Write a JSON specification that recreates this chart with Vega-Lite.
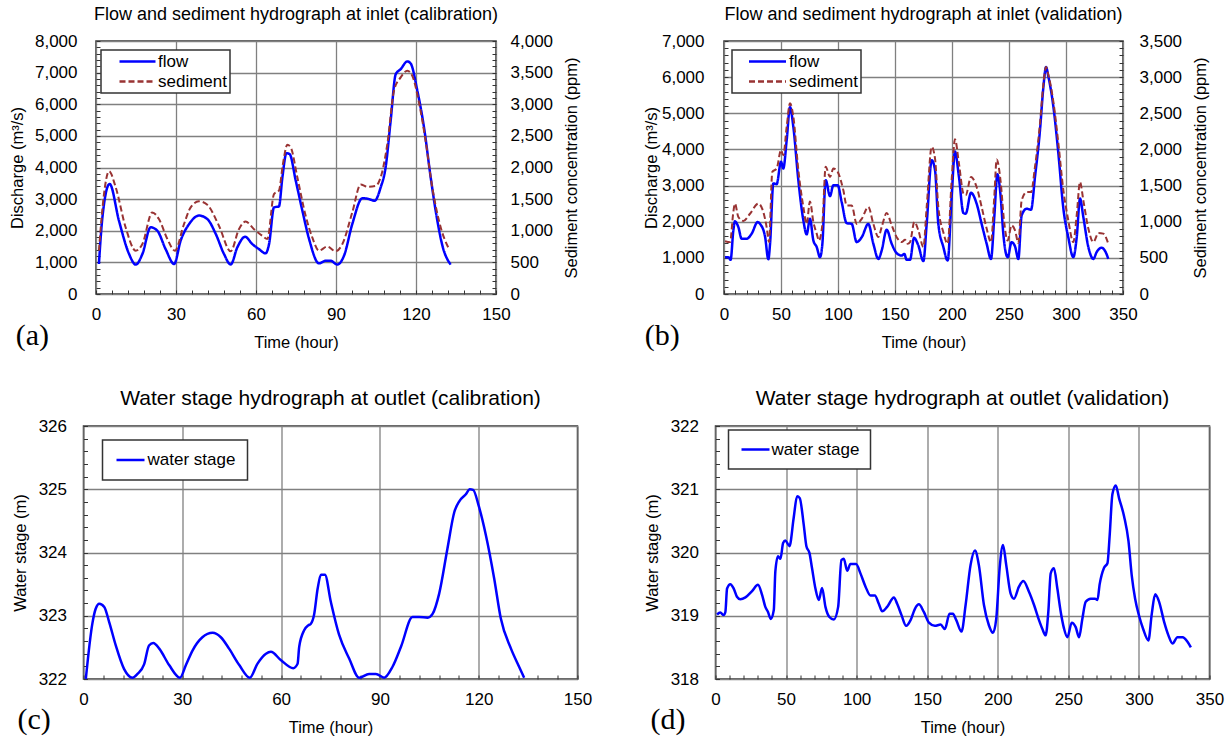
{
  "$schema": "https://vega.github.io/schema/vega-lite/v6.json",
  "background": "white",
  "padding": {"left": 0, "top": 5, "right": 5, "bottom": 5},
  "config": {
    "font": "Liberation Sans",
    "view": {"stroke": "#333333", "strokeWidth": 1.5},
    "title": {"font": "Liberation Sans", "fontSize": 18, "fontWeight": "normal", "color": "black", "offset": 8, "frame": "group"},
    "axis": {
      "labelFont": "Liberation Sans", "titleFont": "Liberation Sans",
      "labelFontSize": 17, "titleFontSize": 16.5, "titleFontWeight": "normal",
      "labelColor": "black", "titleColor": "black",
      "tickColor": "#333333", "tickSize": -4, "tickWidth": 1,
      "domain": false, "gridColor": "#808080", "gridWidth": 1.3,
      "labelOverlap": false, "labelFlush": false
    },
    "axisX": {"labelPadding": 16, "titlePadding": 12},
    "axisY": {"labelPadding": 23, "titlePadding": 9},
    "legend": {"strokeColor": "#333333", "strokeWidth": 1.5, "fillColor": "white", "labelFont": "Liberation Sans", "labelFontSize": 17, "labelColor": "black"},
    "line": {"interpolate": "monotone"}
  },
  "datasets": {
    "a_flow": [
      {"t":1.1,"v":950,"s":"flow"},{"t":2.4,"v":2420,"s":"flow"},{"t":5.1,"v":3480,"s":"flow"},{"t":8.6,"v":2320,"s":"flow"},
      {"t":12.4,"v":1265,"s":"flow"},{"t":14.9,"v":930,"s":"flow"},{"t":17.4,"v":1265,"s":"flow"},{"t":20.5,"v":2110,"s":"flow"},
      {"t":23,"v":2000,"s":"flow"},{"t":26.1,"v":1420,"s":"flow"},{"t":29.3,"v":950,"s":"flow"},{"t":31.75,"v":1690,"s":"flow"},
      {"t":34.9,"v":2210,"s":"flow"},{"t":38.6,"v":2480,"s":"flow"},{"t":41.75,"v":2370,"s":"flow"},{"t":44.9,"v":1900,"s":"flow"},
      {"t":48,"v":1265,"s":"flow"},{"t":50.5,"v":930,"s":"flow"},{"t":53,"v":1475,"s":"flow"},{"t":55.9,"v":1810,"s":"flow"},
      {"t":58.6,"v":1580,"s":"flow"},{"t":61.1,"v":1420,"s":"flow"},{"t":63.6,"v":1285,"s":"flow"},{"t":64.9,"v":1580,"s":"flow"},
      {"t":66.75,"v":2740,"s":"flow"},{"t":68.6,"v":2770,"s":"flow"},{"t":69.9,"v":3690,"s":"flow"},{"t":71.4,"v":4450,"s":"flow"},
      {"t":72.6,"v":4425,"s":"flow"},{"t":74.9,"v":3585,"s":"flow"},{"t":77.4,"v":2630,"s":"flow"},{"t":79.9,"v":1740,"s":"flow"},
      {"t":83.6,"v":970,"s":"flow"},{"t":86.1,"v":1050,"s":"flow"},{"t":88,"v":1050,"s":"flow"},{"t":90.5,"v":930,"s":"flow"},
      {"t":93,"v":1210,"s":"flow"},{"t":96.1,"v":2210,"s":"flow"},{"t":99.9,"v":3030,"s":"flow"},{"t":102.4,"v":3000,"s":"flow"},
      {"t":104.5,"v":2950,"s":"flow"},{"t":106.75,"v":3370,"s":"flow"},{"t":108.6,"v":4000,"s":"flow"},{"t":110.5,"v":5480,"s":"flow"},
      {"t":112.4,"v":6950,"s":"flow"},{"t":114.25,"v":7110,"s":"flow"},{"t":116.75,"v":7355,"s":"flow"},{"t":118,"v":7290,"s":"flow"},
      {"t":120.5,"v":6430,"s":"flow"},{"t":123,"v":5270,"s":"flow"},{"t":125.5,"v":3690,"s":"flow"},{"t":128,"v":2320,"s":"flow"},
      {"t":129.9,"v":1530,"s":"flow"},{"t":133,"v":930,"s":"flow"}
    ],
    "a_sed": [
      {"t":1.1,"v":685,"s":"sediment"},{"t":2.1,"v":1210,"s":"sediment"},{"t":3,"v":1580,"s":"sediment"},{"t":4.9,"v":1940,"s":"sediment"},
      {"t":7.4,"v":1685,"s":"sediment"},{"t":11.1,"v":1055,"s":"sediment"},{"t":14.9,"v":685,"s":"sediment"},{"t":17.4,"v":790,"s":"sediment"},
      {"t":21.1,"v":1290,"s":"sediment"},{"t":23.6,"v":1185,"s":"sediment"},{"t":26.75,"v":870,"s":"sediment"},{"t":29.6,"v":685,"s":"sediment"},
      {"t":33,"v":1105,"s":"sediment"},{"t":35.5,"v":1370,"s":"sediment"},{"t":38.6,"v":1465,"s":"sediment"},{"t":41.75,"v":1410,"s":"sediment"},
      {"t":46.1,"v":1080,"s":"sediment"},{"t":50.5,"v":675,"s":"sediment"},{"t":53.6,"v":1025,"s":"sediment"},{"t":56.1,"v":1145,"s":"sediment"},
      {"t":59.25,"v":1025,"s":"sediment"},{"t":62.4,"v":920,"s":"sediment"},{"t":64.25,"v":870,"s":"sediment"},{"t":66.75,"v":1580,"s":"sediment"},
      {"t":68.6,"v":1635,"s":"sediment"},{"t":70.1,"v":2055,"s":"sediment"},{"t":71.75,"v":2360,"s":"sediment"},{"t":73,"v":2320,"s":"sediment"},
      {"t":75.5,"v":1845,"s":"sediment"},{"t":78.6,"v":1240,"s":"sediment"},{"t":81.1,"v":895,"s":"sediment"},{"t":83.6,"v":685,"s":"sediment"},
      {"t":86.75,"v":750,"s":"sediment"},{"t":89.9,"v":675,"s":"sediment"},{"t":92.4,"v":790,"s":"sediment"},{"t":96.1,"v":1290,"s":"sediment"},
      {"t":99.25,"v":1730,"s":"sediment"},{"t":101.75,"v":1695,"s":"sediment"},{"t":104.9,"v":1710,"s":"sediment"},{"t":107.1,"v":1895,"s":"sediment"},
      {"t":109.25,"v":2370,"s":"sediment"},{"t":111.75,"v":3215,"s":"sediment"},{"t":114.25,"v":3425,"s":"sediment"},{"t":116.75,"v":3530,"s":"sediment"},
      {"t":118.6,"v":3450,"s":"sediment"},{"t":121.1,"v":3030,"s":"sediment"},{"t":123.6,"v":2425,"s":"sediment"},{"t":126.1,"v":1685,"s":"sediment"},
      {"t":129.25,"v":1055,"s":"sediment"},{"t":132.4,"v":710,"s":"sediment"}
    ],
    "b_flow": [
      {"t":0.9,"v":1020,"s":"flow"},{"t":3.8,"v":1020,"s":"flow"},{"t":5.8,"v":945,"s":"flow"},{"t":8.2,"v":1760,"s":"flow"},
      {"t":9.6,"v":2010,"s":"flow"},{"t":12.6,"v":1850,"s":"flow"},{"t":15.5,"v":1530,"s":"flow"},{"t":19.9,"v":1530,"s":"flow"},
      {"t":24.3,"v":1670,"s":"flow"},{"t":29.5,"v":1990,"s":"flow"},{"t":31.6,"v":1940,"s":"flow"},{"t":36,"v":1590,"s":"flow"},
      {"t":38.9,"v":960,"s":"flow"},{"t":40.4,"v":1390,"s":"flow"},{"t":43.3,"v":3060,"s":"flow"},{"t":46.2,"v":3040,"s":"flow"},
      {"t":50,"v":3660,"s":"flow"},{"t":52,"v":3470,"s":"flow"},{"t":55,"v":4260,"s":"flow"},{"t":57.9,"v":5170,"s":"flow"},
      {"t":60.8,"v":4630,"s":"flow"},{"t":65.2,"v":3150,"s":"flow"},{"t":69.6,"v":2040,"s":"flow"},{"t":72.5,"v":1650,"s":"flow"},
      {"t":75.4,"v":2080,"s":"flow"},{"t":78.4,"v":1480,"s":"flow"},{"t":81.3,"v":1300,"s":"flow"},{"t":84.2,"v":1020,"s":"flow"},
      {"t":86.3,"v":1390,"s":"flow"},{"t":89.2,"v":3150,"s":"flow"},{"t":93,"v":2710,"s":"flow"},{"t":95.9,"v":3010,"s":"flow"},
      {"t":99.7,"v":3010,"s":"flow"},{"t":103.2,"v":2550,"s":"flow"},{"t":107.6,"v":1960,"s":"flow"},{"t":112,"v":1940,"s":"flow"},
      {"t":116.4,"v":1435,"s":"flow"},{"t":120.8,"v":1570,"s":"flow"},{"t":126.6,"v":1940,"s":"flow"},{"t":131,"v":1390,"s":"flow"},
      {"t":135.4,"v":970,"s":"flow"},{"t":138.3,"v":1200,"s":"flow"},{"t":142.7,"v":1780,"s":"flow"},{"t":147.1,"v":1390,"s":"flow"},
      {"t":151.5,"v":1130,"s":"flow"},{"t":155.8,"v":1065,"s":"flow"},{"t":158.2,"v":1110,"s":"flow"},{"t":160.2,"v":945,"s":"flow"},
      {"t":163.2,"v":945,"s":"flow"},{"t":166.7,"v":1555,"s":"flow"},{"t":170.5,"v":1340,"s":"flow"},{"t":174.9,"v":910,"s":"flow"},
      {"t":177.8,"v":1940,"s":"flow"},{"t":182.2,"v":3700,"s":"flow"},{"t":185.1,"v":3430,"s":"flow"},{"t":188,"v":1940,"s":"flow"},
      {"t":192.4,"v":1300,"s":"flow"},{"t":196.2,"v":925,"s":"flow"},{"t":199.7,"v":2690,"s":"flow"},{"t":202.6,"v":3940,"s":"flow"},
      {"t":206.1,"v":3240,"s":"flow"},{"t":210,"v":2240,"s":"flow"},{"t":212,"v":2220,"s":"flow"},{"t":216.7,"v":2800,"s":"flow"},
      {"t":221.6,"v":2500,"s":"flow"},{"t":226,"v":1940,"s":"flow"},{"t":230.4,"v":1390,"s":"flow"},{"t":234.2,"v":970,"s":"flow"},
      {"t":237.1,"v":2130,"s":"flow"},{"t":239.8,"v":3310,"s":"flow"},{"t":242.7,"v":2690,"s":"flow"},{"t":245,"v":1670,"s":"flow"},
      {"t":248.8,"v":1020,"s":"flow"},{"t":252.3,"v":1435,"s":"flow"},{"t":255.3,"v":1315,"s":"flow"},{"t":258.2,"v":970,"s":"flow"},
      {"t":261.1,"v":2175,"s":"flow"},{"t":265.5,"v":2360,"s":"flow"},{"t":269.3,"v":2330,"s":"flow"},{"t":272.8,"v":3240,"s":"flow"},
      {"t":277.2,"v":4540,"s":"flow"},{"t":280.1,"v":5700,"s":"flow"},{"t":282.5,"v":6280,"s":"flow"},{"t":284.5,"v":6020,"s":"flow"},
      {"t":288.9,"v":5190,"s":"flow"},{"t":293.3,"v":3890,"s":"flow"},{"t":297.7,"v":2360,"s":"flow"},{"t":302,"v":1570,"s":"flow"},
      {"t":306.4,"v":1020,"s":"flow"},{"t":309.4,"v":1570,"s":"flow"},{"t":312.3,"v":2640,"s":"flow"},{"t":315.2,"v":2130,"s":"flow"},
      {"t":319.6,"v":1300,"s":"flow"},{"t":324,"v":970,"s":"flow"},{"t":326.9,"v":1160,"s":"flow"},{"t":331.3,"v":1280,"s":"flow"},
      {"t":334.8,"v":1160,"s":"flow"},{"t":337.1,"v":970,"s":"flow"}
    ],
    "b_sed": [
      {"t":0.9,"v":730,"s":"sediment"},{"t":5.3,"v":718,"s":"sediment"},{"t":8.2,"v":1135,"s":"sediment"},{"t":9.6,"v":1250,"s":"sediment"},
      {"t":12.6,"v":1065,"s":"sediment"},{"t":17,"v":1010,"s":"sediment"},{"t":22.8,"v":1110,"s":"sediment"},{"t":30.1,"v":1250,"s":"sediment"},
      {"t":34.5,"v":1135,"s":"sediment"},{"t":37.4,"v":925,"s":"sediment"},{"t":39.5,"v":718,"s":"sediment"},{"t":42.4,"v":1690,"s":"sediment"},
      {"t":46.2,"v":1735,"s":"sediment"},{"t":50,"v":1990,"s":"sediment"},{"t":52,"v":1920,"s":"sediment"},{"t":55,"v":2315,"s":"sediment"},
      {"t":57.9,"v":2640,"s":"sediment"},{"t":60.8,"v":2455,"s":"sediment"},{"t":65.2,"v":1715,"s":"sediment"},{"t":69.6,"v":1205,"s":"sediment"},
      {"t":72.5,"v":970,"s":"sediment"},{"t":75.4,"v":1280,"s":"sediment"},{"t":78.4,"v":995,"s":"sediment"},{"t":81.3,"v":835,"s":"sediment"},
      {"t":83.3,"v":740,"s":"sediment"},{"t":86.3,"v":970,"s":"sediment"},{"t":89.2,"v":1760,"s":"sediment"},{"t":93,"v":1620,"s":"sediment"},
      {"t":95.9,"v":1735,"s":"sediment"},{"t":99.7,"v":1690,"s":"sediment"},{"t":104.7,"v":1435,"s":"sediment"},{"t":107.6,"v":1225,"s":"sediment"},
      {"t":112,"v":1225,"s":"sediment"},{"t":116.4,"v":970,"s":"sediment"},{"t":120.8,"v":1040,"s":"sediment"},{"t":126.6,"v":1205,"s":"sediment"},
      {"t":131,"v":970,"s":"sediment"},{"t":135.4,"v":788,"s":"sediment"},{"t":138.3,"v":925,"s":"sediment"},{"t":142.7,"v":1120,"s":"sediment"},
      {"t":147.1,"v":950,"s":"sediment"},{"t":152.3,"v":765,"s":"sediment"},{"t":155.8,"v":718,"s":"sediment"},{"t":158.8,"v":750,"s":"sediment"},
      {"t":161.1,"v":695,"s":"sediment"},{"t":163.2,"v":718,"s":"sediment"},{"t":167,"v":995,"s":"sediment"},{"t":170.5,"v":880,"s":"sediment"},
      {"t":174.9,"v":650,"s":"sediment"},{"t":177.8,"v":1205,"s":"sediment"},{"t":182.2,"v":2035,"s":"sediment"},{"t":185.1,"v":1875,"s":"sediment"},
      {"t":188,"v":1205,"s":"sediment"},{"t":192.4,"v":855,"s":"sediment"},{"t":196.2,"v":695,"s":"sediment"},{"t":199.7,"v":1575,"s":"sediment"},
      {"t":202.6,"v":2140,"s":"sediment"},{"t":206.1,"v":1805,"s":"sediment"},{"t":210,"v":1390,"s":"sediment"},{"t":212,"v":1365,"s":"sediment"},
      {"t":216.7,"v":1620,"s":"sediment"},{"t":221.6,"v":1480,"s":"sediment"},{"t":226,"v":1205,"s":"sediment"},{"t":230.4,"v":905,"s":"sediment"},
      {"t":234.2,"v":718,"s":"sediment"},{"t":237.1,"v":1345,"s":"sediment"},{"t":239.2,"v":1860,"s":"sediment"},{"t":242.7,"v":1550,"s":"sediment"},
      {"t":245.6,"v":1020,"s":"sediment"},{"t":248.8,"v":740,"s":"sediment"},{"t":252.3,"v":950,"s":"sediment"},{"t":255.3,"v":880,"s":"sediment"},
      {"t":258.2,"v":705,"s":"sediment"},{"t":261.1,"v":1295,"s":"sediment"},{"t":265.5,"v":1410,"s":"sediment"},{"t":269.3,"v":1410,"s":"sediment"},
      {"t":272.8,"v":1760,"s":"sediment"},{"t":277.2,"v":2360,"s":"sediment"},{"t":280.1,"v":2895,"s":"sediment"},{"t":282.5,"v":3140,"s":"sediment"},
      {"t":284.5,"v":3035,"s":"sediment"},{"t":288.9,"v":2660,"s":"sediment"},{"t":293.3,"v":2085,"s":"sediment"},{"t":297.7,"v":1435,"s":"sediment"},
      {"t":302,"v":1020,"s":"sediment"},{"t":306.4,"v":718,"s":"sediment"},{"t":309.4,"v":1090,"s":"sediment"},{"t":312.3,"v":1550,"s":"sediment"},
      {"t":315.2,"v":1295,"s":"sediment"},{"t":319.6,"v":905,"s":"sediment"},{"t":324,"v":718,"s":"sediment"},{"t":328.4,"v":843,"s":"sediment"},
      {"t":332.7,"v":835,"s":"sediment"},{"t":337.1,"v":695,"s":"sediment"}
    ],
    "c_stage": [
      {"t":0.7,"v":322.0,"s":"water stage"},{"t":2.7,"v":322.88,"s":"water stage"},{"t":3.7,"v":323.11,"s":"water stage"},{"t":4.8,"v":323.19,"s":"water stage"},
      {"t":6.3,"v":323.14,"s":"water stage"},{"t":7.8,"v":322.9,"s":"water stage"},{"t":9.8,"v":322.53,"s":"water stage"},{"t":12.3,"v":322.16,"s":"water stage"},
      {"t":14.9,"v":322.02,"s":"water stage"},{"t":16.4,"v":322.08,"s":"water stage"},{"t":18.4,"v":322.23,"s":"water stage"},{"t":19.9,"v":322.53,"s":"water stage"},
      {"t":21.2,"v":322.57,"s":"water stage"},{"t":23,"v":322.48,"s":"water stage"},{"t":26,"v":322.22,"s":"water stage"},{"t":29.3,"v":322.02,"s":"water stage"},
      {"t":31.1,"v":322.22,"s":"water stage"},{"t":33.1,"v":322.45,"s":"water stage"},{"t":36.1,"v":322.66,"s":"water stage"},{"t":39.2,"v":322.73,"s":"water stage"},
      {"t":41.7,"v":322.66,"s":"water stage"},{"t":44.2,"v":322.48,"s":"water stage"},{"t":47.3,"v":322.22,"s":"water stage"},{"t":50.5,"v":322.02,"s":"water stage"},
      {"t":52.8,"v":322.24,"s":"water stage"},{"t":55.4,"v":322.4,"s":"water stage"},{"t":56.9,"v":322.43,"s":"water stage"},{"t":59.9,"v":322.3,"s":"water stage"},
      {"t":63.7,"v":322.17,"s":"water stage"},{"t":65,"v":322.24,"s":"water stage"},{"t":65.5,"v":322.51,"s":"water stage"},{"t":67,"v":322.77,"s":"water stage"},
      {"t":68.3,"v":322.85,"s":"water stage"},{"t":69,"v":322.87,"s":"water stage"},{"t":70,"v":323.01,"s":"water stage"},{"t":71.1,"v":323.43,"s":"water stage"},
      {"t":72.1,"v":323.65,"s":"water stage"},{"t":73.3,"v":323.65,"s":"water stage"},{"t":75.1,"v":323.22,"s":"water stage"},{"t":77.6,"v":322.7,"s":"water stage"},
      {"t":80.7,"v":322.32,"s":"water stage"},{"t":83.7,"v":322.02,"s":"water stage"},{"t":86.7,"v":322.08,"s":"water stage"},{"t":88.8,"v":322.08,"s":"water stage"},
      {"t":91.3,"v":322.02,"s":"water stage"},{"t":93.8,"v":322.19,"s":"water stage"},{"t":96.4,"v":322.51,"s":"water stage"},{"t":99.9,"v":322.98,"s":"water stage"},
      {"t":101.9,"v":322.98,"s":"water stage"},{"t":104.5,"v":322.97,"s":"water stage"},{"t":106,"v":323.03,"s":"water stage"},{"t":108,"v":323.35,"s":"water stage"},
      {"t":110.5,"v":324.06,"s":"water stage"},{"t":112.6,"v":324.64,"s":"water stage"},{"t":114.1,"v":324.81,"s":"water stage"},{"t":116.1,"v":324.92,"s":"water stage"},
      {"t":117.3,"v":325.0,"s":"water stage"},{"t":118.3,"v":324.99,"s":"water stage"},{"t":120.1,"v":324.72,"s":"water stage"},{"t":122.2,"v":324.27,"s":"water stage"},
      {"t":124.7,"v":323.59,"s":"water stage"},{"t":126.7,"v":322.96,"s":"water stage"},{"t":129.8,"v":322.48,"s":"water stage"},{"t":132.3,"v":322.19,"s":"water stage"},
      {"t":133.8,"v":322.02,"s":"water stage"}
    ],
    "d_stage": [
      {"t":1.1,"v":319.02,"s":"water stage"},{"t":3.4,"v":319.05,"s":"water stage"},{"t":5.8,"v":319.01,"s":"water stage"},{"t":7,"v":319.06,"s":"water stage"},
      {"t":8.2,"v":319.43,"s":"water stage"},{"t":10.5,"v":319.5,"s":"water stage"},{"t":12.9,"v":319.43,"s":"water stage"},{"t":15.2,"v":319.3,"s":"water stage"},
      {"t":17.6,"v":319.26,"s":"water stage"},{"t":21.2,"v":319.29,"s":"water stage"},{"t":25.9,"v":319.39,"s":"water stage"},{"t":30.1,"v":319.49,"s":"water stage"},
      {"t":33,"v":319.33,"s":"water stage"},{"t":35.3,"v":319.14,"s":"water stage"},{"t":37.2,"v":319.06,"s":"water stage"},{"t":39.1,"v":318.95,"s":"water stage"},
      {"t":41.3,"v":319.09,"s":"water stage"},{"t":42.4,"v":319.7,"s":"water stage"},{"t":44.3,"v":319.94,"s":"water stage"},{"t":46,"v":319.9,"s":"water stage"},
      {"t":47.9,"v":320.15,"s":"water stage"},{"t":49.5,"v":320.19,"s":"water stage"},{"t":52.4,"v":320.1,"s":"water stage"},{"t":55.4,"v":320.55,"s":"water stage"},
      {"t":57.8,"v":320.89,"s":"water stage"},{"t":59.7,"v":320.86,"s":"water stage"},{"t":62.5,"v":320.44,"s":"water stage"},{"t":64.4,"v":320.1,"s":"water stage"},
      {"t":66.6,"v":319.99,"s":"water stage"},{"t":68.4,"v":319.75,"s":"water stage"},{"t":70.8,"v":319.43,"s":"water stage"},{"t":73.2,"v":319.25,"s":"water stage"},
      {"t":75.5,"v":319.44,"s":"water stage"},{"t":77.9,"v":319.14,"s":"water stage"},{"t":80.7,"v":318.98,"s":"water stage"},{"t":83.8,"v":318.94,"s":"water stage"},
      {"t":86.9,"v":319.14,"s":"water stage"},{"t":89.2,"v":319.88,"s":"water stage"},{"t":90.9,"v":319.9,"s":"water stage"},{"t":93.3,"v":319.71,"s":"water stage"},
      {"t":95.6,"v":319.82,"s":"water stage"},{"t":99.6,"v":319.82,"s":"water stage"},{"t":102.7,"v":319.67,"s":"water stage"},{"t":106.3,"v":319.46,"s":"water stage"},
      {"t":109.8,"v":319.32,"s":"water stage"},{"t":112.9,"v":319.32,"s":"water stage"},{"t":115.7,"v":319.19,"s":"water stage"},{"t":118.1,"v":319.07,"s":"water stage"},
      {"t":121.6,"v":319.14,"s":"water stage"},{"t":126.4,"v":319.29,"s":"water stage"},{"t":128.7,"v":319.19,"s":"water stage"},{"t":131.8,"v":319.01,"s":"water stage"},
      {"t":135.1,"v":318.84,"s":"water stage"},{"t":138.2,"v":318.93,"s":"water stage"},{"t":141.3,"v":319.11,"s":"water stage"},{"t":144.1,"v":319.18,"s":"water stage"},
      {"t":147.6,"v":319.06,"s":"water stage"},{"t":151.2,"v":318.89,"s":"water stage"},{"t":155.4,"v":318.84,"s":"water stage"},{"t":159.5,"v":318.86,"s":"water stage"},
      {"t":162.5,"v":318.79,"s":"water stage"},{"t":165.8,"v":319.03,"s":"water stage"},{"t":168.2,"v":319.03,"s":"water stage"},{"t":170.6,"v":318.93,"s":"water stage"},
      {"t":174.3,"v":318.75,"s":"water stage"},{"t":177.2,"v":319.17,"s":"water stage"},{"t":180.7,"v":319.8,"s":"water stage"},{"t":183.8,"v":320.03,"s":"water stage"},
      {"t":186.6,"v":319.8,"s":"water stage"},{"t":190.2,"v":319.17,"s":"water stage"},{"t":193.7,"v":318.85,"s":"water stage"},{"t":196.6,"v":318.73,"s":"water stage"},
      {"t":198.9,"v":318.95,"s":"water stage"},{"t":201.3,"v":319.75,"s":"water stage"},{"t":203.7,"v":320.12,"s":"water stage"},{"t":206,"v":319.8,"s":"water stage"},
      {"t":209.1,"v":319.35,"s":"water stage"},{"t":211.5,"v":319.27,"s":"water stage"},{"t":215,"v":319.46,"s":"water stage"},{"t":218.1,"v":319.55,"s":"water stage"},
      {"t":222.1,"v":319.38,"s":"water stage"},{"t":225.7,"v":319.17,"s":"water stage"},{"t":229.2,"v":318.93,"s":"water stage"},{"t":231.6,"v":318.79,"s":"water stage"},
      {"t":233.9,"v":318.69,"s":"water stage"},{"t":235.8,"v":319.06,"s":"water stage"},{"t":237.5,"v":319.67,"s":"water stage"},{"t":239.8,"v":319.75,"s":"water stage"},
      {"t":242.2,"v":319.43,"s":"water stage"},{"t":244.6,"v":319.06,"s":"water stage"},{"t":246.9,"v":318.8,"s":"water stage"},{"t":249.3,"v":318.66,"s":"water stage"},
      {"t":252.4,"v":318.89,"s":"water stage"},{"t":255.2,"v":318.82,"s":"water stage"},{"t":257.6,"v":318.66,"s":"water stage"},{"t":259.9,"v":318.95,"s":"water stage"},
      {"t":262.3,"v":319.22,"s":"water stage"},{"t":265.8,"v":319.27,"s":"water stage"},{"t":268.9,"v":319.27,"s":"water stage"},{"t":270.6,"v":319.25,"s":"water stage"},
      {"t":272.2,"v":319.5,"s":"water stage"},{"t":275.3,"v":319.76,"s":"water stage"},{"t":277.7,"v":319.83,"s":"water stage"},{"t":279.3,"v":320.28,"s":"water stage"},
      {"t":281.2,"v":320.92,"s":"water stage"},{"t":283.6,"v":321.06,"s":"water stage"},{"t":285.9,"v":320.86,"s":"water stage"},{"t":289.5,"v":320.57,"s":"water stage"},
      {"t":292.6,"v":320.18,"s":"water stage"},{"t":294.9,"v":319.64,"s":"water stage"},{"t":297.3,"v":319.27,"s":"water stage"},{"t":300.1,"v":319.0,"s":"water stage"},
      {"t":303,"v":318.79,"s":"water stage"},{"t":306.7,"v":318.61,"s":"water stage"},{"t":309.1,"v":319.03,"s":"water stage"},{"t":311.5,"v":319.34,"s":"water stage"},
      {"t":314.3,"v":319.22,"s":"water stage"},{"t":317.9,"v":318.9,"s":"water stage"},{"t":320.9,"v":318.69,"s":"water stage"},{"t":323.8,"v":318.56,"s":"water stage"},
      {"t":327.3,"v":318.66,"s":"water stage"},{"t":330.9,"v":318.66,"s":"water stage"},{"t":334.4,"v":318.59,"s":"water stage"},{"t":336.8,"v":318.5,"s":"water stage"}
    ]
  },
  "spacing": 35,
  "resolve": {"scale": {"color": "independent", "strokeDash": "independent"}},
  "vconcat": [
    {
      "spacing": 7,
      "resolve": {"scale": {"color": "independent", "strokeDash": "independent"}},
      "hconcat": [
        {"width": 1, "height": 1, "data": {"values": []}, "mark": {"type": "point", "opacity": 0}, "view": {"stroke": null}},
        {
          "spacing": 61,
          "resolve": {"scale": {"color": "independent", "strokeDash": "independent"}},
          "hconcat": [
            {
              "title": {"text": "(a)", "orient": "bottom", "anchor": "start", "frame": "bounds", "font": "Liberation Serif", "fontSize": 30, "offset": -30, "dx": 7},
              "resolve": {"scale": {"color": "independent", "strokeDash": "independent"}},
              "vconcat": [
                {
                  "width": 400, "height": 253,
                  "title": {"text": "Flow and sediment hydrograph at inlet (calibration)"},
                  "resolve": {"scale": {"y": "independent"}},
                  "encoding": {
                    "x": {"field": "t", "type": "quantitative", "scale": {"domain": [0, 150], "nice": false},
                      "axis": {"title": "Time (hour)", "values": [0,6,12,18,24,30,36,42,48,54,60,66,72,78,84,90,96,102,108,114,120,126,132,138,144,150],
                        "labelExpr": "datum.value % 30 === 0 ? datum.label : ''",
                        "gridOpacity": {"condition": {"test": "datum.value % 30 === 0", "value": 1}, "value": 0}}}
                  },
                  "layer": [
                    {
                      "data": {"name": "a_flow"},
                      "mark": {"type": "line", "strokeWidth": 2.5},
                      "encoding": {
                        "y": {"field": "v", "type": "quantitative", "scale": {"domain": [0, 8000], "nice": false},
                          "axis": {"title": "Discharge (m³/s)", "values": [0,200,400,600,800,1000,1200,1400,1600,1800,2000,2200,2400,2600,2800,3000,3200,3400,3600,3800,4000,4200,4400,4600,4800,5000,5200,5400,5600,5800,6000,6200,6400,6600,6800,7000,7200,7400,7600,7800,8000],
                            "labelExpr": "datum.value % 1000 === 0 ? format(datum.value, ',') : ''",
                            "gridOpacity": {"condition": {"test": "datum.value % 1000 === 0", "value": 1}, "value": 0}}},
                        "color": {"field": "s", "type": "nominal", "scale": {"domain": ["flow", "sediment"], "range": ["#0000ff", "#993333"]},
                          "legend": {"title": null, "orient": "none", "legendX": 5, "legendY": 9, "symbolType": "M-3.6,0H3.6", "symbolSize": 100, "symbolStrokeWidth": 2.5, "symbolOffset": 25, "labelOffset": 12, "padding": 3, "rowPadding": 2, "labelExpr": "datum.label + '\u00a0\u00a0'"}},
                        "strokeDash": {"field": "s", "type": "nominal", "scale": {"domain": ["flow", "sediment"], "range": [[1, 0], [6, 3]]},
                          "legend": {"title": null, "orient": "none", "legendX": 5, "legendY": 9, "symbolType": "M-3.6,0H3.6", "symbolSize": 100, "symbolStrokeWidth": 2.5, "symbolOffset": 25, "labelOffset": 12, "padding": 3, "rowPadding": 2, "labelExpr": "datum.label + '\u00a0\u00a0'"}}
                      }
                    },
                    {
                      "data": {"name": "a_sed"},
                      "mark": {"type": "line", "strokeWidth": 2},
                      "encoding": {
                        "y": {"field": "v", "type": "quantitative", "scale": {"domain": [0, 4000], "nice": false},
                          "axis": {"orient": "right", "title": "Sediment concentration (ppm)", "titleAngle": 270, "titleBaseline": "top", "grid": false, "labelPadding": 18, "titlePadding": 11,
                            "values": [0,100,200,300,400,500,600,700,800,900,1000,1100,1200,1300,1400,1500,1600,1700,1800,1900,2000,2100,2200,2300,2400,2500,2600,2700,2800,2900,3000,3100,3200,3300,3400,3500,3600,3700,3800,3900,4000],
                            "labelExpr": "datum.value % 500 === 0 ? format(datum.value, ',') : ''"}},
                        "color": {"field": "s", "type": "nominal"},
                        "strokeDash": {"field": "s", "type": "nominal"}
                      }
                    }
                  ]
                }
              ]
            },
            {
              "title": {"text": "(b)", "orient": "bottom", "anchor": "start", "frame": "bounds", "font": "Liberation Serif", "fontSize": 30, "offset": -30, "dx": 2},
              "resolve": {"scale": {"color": "independent", "strokeDash": "independent"}},
              "vconcat": [
                {
                  "width": 399, "height": 253,
                  "title": {"text": "Flow and sediment hydrograph at inlet (validation)"},
                  "resolve": {"scale": {"y": "independent"}},
                  "encoding": {
                    "x": {"field": "t", "type": "quantitative", "scale": {"domain": [0, 350], "nice": false},
                      "axis": {"title": "Time (hour)", "values": [0,10,20,30,40,50,60,70,80,90,100,110,120,130,140,150,160,170,180,190,200,210,220,230,240,250,260,270,280,290,300,310,320,330,340,350],
                        "labelExpr": "datum.value % 50 === 0 ? datum.label : ''",
                        "gridOpacity": {"condition": {"test": "datum.value % 50 === 0", "value": 1}, "value": 0}}}
                  },
                  "layer": [
                    {
                      "data": {"name": "b_flow"},
                      "mark": {"type": "line", "strokeWidth": 2.5},
                      "encoding": {
                        "y": {"field": "v", "type": "quantitative", "scale": {"domain": [0, 7000], "nice": false},
                          "axis": {"title": "Discharge (m³/s)", "labelPadding": 24, "titlePadding": 2, "values": [0,200,400,600,800,1000,1200,1400,1600,1800,2000,2200,2400,2600,2800,3000,3200,3400,3600,3800,4000,4200,4400,4600,4800,5000,5200,5400,5600,5800,6000,6200,6400,6600,6800,7000],
                            "labelExpr": "datum.value % 1000 === 0 ? format(datum.value, ',') : ''",
                            "gridOpacity": {"condition": {"test": "datum.value % 1000 === 0", "value": 1}, "value": 0}}},
                        "color": {"field": "s", "type": "nominal", "scale": {"domain": ["flow", "sediment"], "range": ["#0000ff", "#993333"]},
                          "legend": {"title": null, "orient": "none", "legendX": 8, "legendY": 9, "symbolType": "M-3.7,0H3.7", "symbolSize": 100, "symbolStrokeWidth": 2.5, "symbolOffset": 24, "labelOffset": 13, "padding": 3, "rowPadding": 2, "labelExpr": "datum.label + '\u00a0\u00a0'"}},
                        "strokeDash": {"field": "s", "type": "nominal", "scale": {"domain": ["flow", "sediment"], "range": [[1, 0], [6, 3]]},
                          "legend": {"title": null, "orient": "none", "legendX": 8, "legendY": 9, "symbolType": "M-3.7,0H3.7", "symbolSize": 100, "symbolStrokeWidth": 2.5, "symbolOffset": 24, "labelOffset": 13, "padding": 3, "rowPadding": 2, "labelExpr": "datum.label + '\u00a0\u00a0'"}}
                      }
                    },
                    {
                      "data": {"name": "b_sed"},
                      "mark": {"type": "line", "strokeWidth": 2},
                      "encoding": {
                        "y": {"field": "v", "type": "quantitative", "scale": {"domain": [0, 3500], "nice": false},
                          "axis": {"orient": "right", "title": "Sediment concentration (ppm)", "titleAngle": 270, "titleBaseline": "top", "grid": false, "labelPadding": 20, "titlePadding": 11,
                            "values": [0,100,200,300,400,500,600,700,800,900,1000,1100,1200,1300,1400,1500,1600,1700,1800,1900,2000,2100,2200,2300,2400,2500,2600,2700,2800,2900,3000,3100,3200,3300,3400,3500],
                            "labelExpr": "datum.value % 500 === 0 ? format(datum.value, ',') : ''"}},
                        "color": {"field": "s", "type": "nominal"},
                        "strokeDash": {"field": "s", "type": "nominal"}
                      }
                    }
                  ]
                }
              ]
            }
          ]
        }
      ]
    },
    {
      "spacing": 9.5,
      "resolve": {"scale": {"color": "independent", "strokeDash": "independent"}},
      "hconcat": [
        {"width": 1, "height": 1, "data": {"values": []}, "mark": {"type": "point", "opacity": 0}, "view": {"stroke": null}},
        {
          "spacing": 50,
          "resolve": {"scale": {"color": "independent", "strokeDash": "independent"}},
          "hconcat": [
            {
              "title": {"text": "(c)", "orient": "bottom", "anchor": "start", "frame": "bounds", "font": "Liberation Serif", "fontSize": 30, "offset": -31, "dx": 6},
              "resolve": {"scale": {"color": "independent", "strokeDash": "independent"}},
              "vconcat": [
                {
                  "width": 494, "height": 253,
                  "title": {"text": "Water stage hydrograph at outlet  (calibration)", "fontSize": 21},
                  "data": {"name": "c_stage"},
                  "mark": {"type": "line", "strokeWidth": 2.5},
                  "encoding": {
                    "x": {"field": "t", "type": "quantitative", "scale": {"domain": [0, 150], "nice": false},
                      "axis": {"title": "Time (hour)", "values": [0,6,12,18,24,30,36,42,48,54,60,66,72,78,84,90,96,102,108,114,120,126,132,138,144,150],
                        "labelExpr": "datum.value % 30 === 0 ? datum.label : ''",
                        "gridOpacity": {"condition": {"test": "datum.value % 30 === 0", "value": 1}, "value": 0}}},
                    "y": {"field": "v", "type": "quantitative", "scale": {"domain": [322, 326], "nice": false, "zero": false},
                      "axis": {"title": "Water stage (m)", "labelPadding": 21, "titlePadding": 10, "values": [322,322.2,322.4,322.6,322.8,323,323.2,323.4,323.6,323.8,324,324.2,324.4,324.6,324.8,325,325.2,325.4,325.6,325.8,326],
                        "labelExpr": "abs(datum.value - round(datum.value)) < 0.01 ? format(datum.value, 'd') : ''",
                        "gridOpacity": {"condition": {"test": "abs(datum.value - round(datum.value)) < 0.01", "value": 1}, "value": 0}}},
                    "color": {"field": "s", "type": "nominal", "scale": {"domain": ["water stage"], "range": ["#0000ff"]},
                      "legend": {"title": null, "orient": "none", "legendX": 19, "legendY": 14, "symbolType": "M-2.8,0H2.8", "symbolSize": 100, "symbolStrokeWidth": 2.5, "symbolOffset": 8, "labelOffset": 8.5, "padding": 11.5}}
                  }
                }
              ]
            },
            {
              "title": {"text": "(d)", "orient": "bottom", "anchor": "start", "frame": "bounds", "font": "Liberation Serif", "fontSize": 30, "offset": -31, "dx": 7},
              "resolve": {"scale": {"color": "independent", "strokeDash": "independent"}},
              "vconcat": [
                {
                  "width": 494, "height": 253,
                  "title": {"text": "Water stage hydrograph at outlet (validation)", "fontSize": 21},
                  "data": {"name": "d_stage"},
                  "mark": {"type": "line", "strokeWidth": 2.5},
                  "encoding": {
                    "x": {"field": "t", "type": "quantitative", "scale": {"domain": [0, 350], "nice": false},
                      "axis": {"title": "Time (hour)", "values": [0,10,20,30,40,50,60,70,80,90,100,110,120,130,140,150,160,170,180,190,200,210,220,230,240,250,260,270,280,290,300,310,320,330,340,350],
                        "labelExpr": "datum.value % 50 === 0 ? datum.label : ''",
                        "gridOpacity": {"condition": {"test": "datum.value % 50 === 0", "value": 1}, "value": 0}}},
                    "y": {"field": "v", "type": "quantitative", "scale": {"domain": [318, 322], "nice": false, "zero": false},
                      "axis": {"title": "Water stage (m)", "labelPadding": 21, "titlePadding": 10, "values": [318,318.2,318.4,318.6,318.8,319,319.2,319.4,319.6,319.8,320,320.2,320.4,320.6,320.8,321,321.2,321.4,321.6,321.8,322],
                        "labelExpr": "abs(datum.value - round(datum.value)) < 0.01 ? format(datum.value, 'd') : ''",
                        "gridOpacity": {"condition": {"test": "abs(datum.value - round(datum.value)) < 0.01", "value": 1}, "value": 0}}},
                    "color": {"field": "s", "type": "nominal", "scale": {"domain": ["water stage"], "range": ["#0000ff"]},
                      "legend": {"title": null, "orient": "none", "legendX": 13, "legendY": 4, "symbolType": "M-2.8,0H2.8", "symbolSize": 100, "symbolStrokeWidth": 2.5, "symbolOffset": 7.5, "labelOffset": 7.5, "padding": 11}}
                  }
                }
              ]
            }
          ]
        }
      ]
    }
  ]
}
